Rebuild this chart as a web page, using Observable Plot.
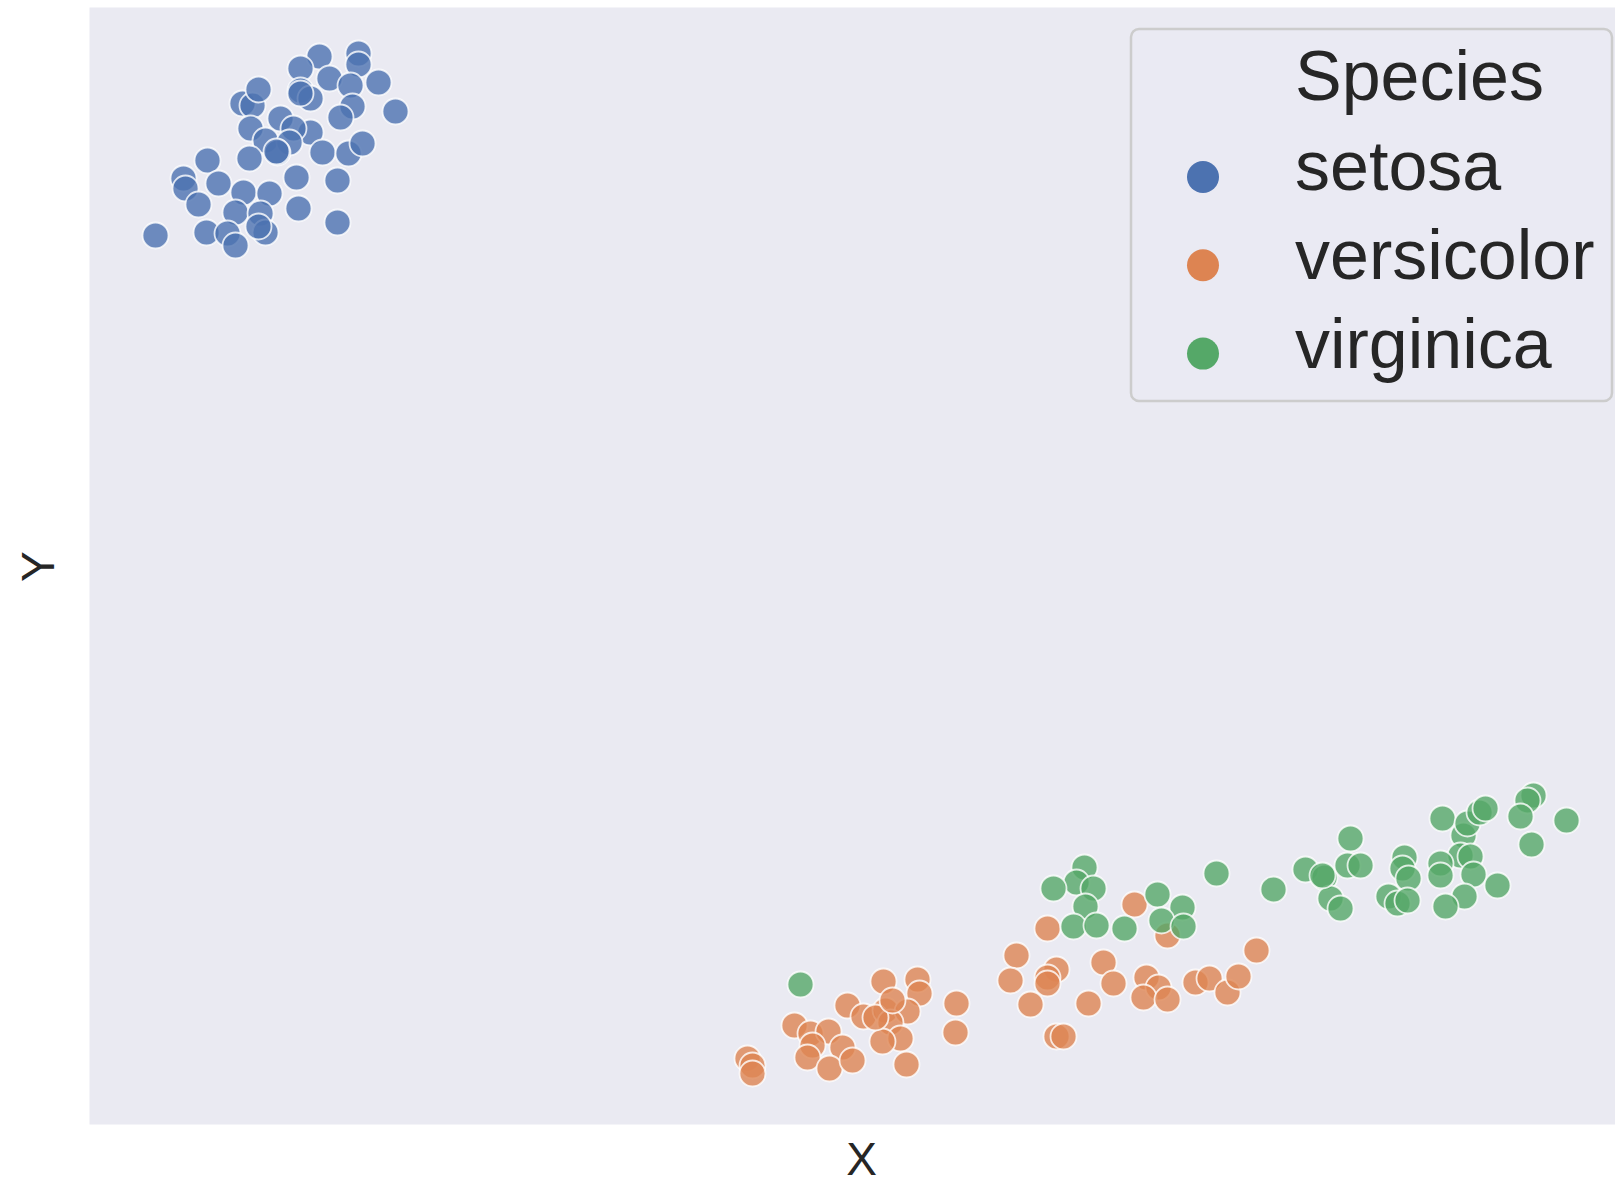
<!DOCTYPE html>
<html>
<head>
<meta charset="utf-8">
<script src="https://cdn.jsdelivr.net/npm/d3@7"></script>
<script src="https://cdn.jsdelivr.net/npm/@observablehq/plot@0.6"></script>
<style>
  html, body { margin: 0; padding: 0; background: #ffffff; overflow: hidden; }
  #wrap { position: relative; width: 1615px; height: 1185px; }
  #legend { position: absolute; left: 0; top: 0; pointer-events: none; }
</style>
</head>
<body>
<div id="wrap"></div>
<script>
// Species and their palette (seaborn "deep")
const species = ["setosa", "versicolor", "virginica"];
const colors = ["#4C72B0", "#DD8452", "#55A868"];
const axisLabels = { x: "X", y: "Y" };
const legendTitle = "Species";

// Embedding coordinates (arbitrary units; y grows downward)
const setosaX = [319,358,358,300,329,378,350,300,310,395,352,340,242,252,258,280,250,310,293,265,289,277,322,348,362,249,207,183,185,218,198,243,269,296,337,298,235,260,337,155,206,227,235,265,258,300,276];
const setosaY = [56,53,64,68,78,82,85,90,98,111,106,117,103,105,89,118,128,132,128,140,142,152,152,153,143,158,160,178,188,183,204,192,193,177,180,208,212,213,222,235,232,233,245,232,226,93,151];

const versicolorX = [883,917,919,956,955,847,863,885,907,890,900,882,906,794,810,828,842,812,807,829,852,747,752,752,1134,1047,1167,1016,1010,1056,1047,1047,1103,1113,1030,1088,1146,1158,1143,1167,1195,1209,1227,1238,1256,1056,1063,875,892];
const versicolorY = [981,979,993,1003,1032,1005,1016,1010,1011,1022,1038,1041,1064,1025,1033,1031,1047,1045,1057,1068,1060,1058,1065,1073,904,928,935,955,980,969,977,983,962,983,1004,1003,977,987,997,999,982,978,992,976,950,1036,1036,1017,1000];

const virginicaX = [800,1084,1076,1053,1093,1085,1073,1096,1124,1157,1182,1161,1183,1216,1273,1305,1324,1350,1347,1360,1330,1340,1404,1402,1408,1388,1397,1407,1442,1463,1467,1479,1485,1460,1470,1440,1440,1473,1497,1464,1445,1533,1527,1520,1531,1566,1322];
const virginicaY = [984,867,882,888,888,906,926,925,928,894,907,920,926,873,889,869,877,838,865,865,898,908,857,868,878,896,903,900,818,835,823,812,808,855,856,863,875,874,885,896,906,795,800,816,844,820,875];

const xDomain = [89, 1615];
const yDomain = [1124, 7];

const data = [];
[[setosaX, setosaY], [versicolorX, versicolorY], [virginicaX, virginicaY]].forEach(([xs, ys], k) => {
  xs.forEach((x, i) => data.push({ x, y: ys[i], species: species[k] }));
});

const font = "'Liberation Sans', Arial, Helvetica, sans-serif";

const chart = Plot.plot({
  width: 1615,
  height: 1185,
  marginLeft: 89,
  marginRight: 0,
  marginTop: 7,
  marginBottom: 61,
  x: { domain: xDomain, axis: null },
  y: { domain: yDomain, axis: null },
  color: { domain: species, range: colors },
  style: { background: "#ffffff", fontFamily: font },
  marks: [
    Plot.frame({ fill: "#EAEAF2", stroke: null }),
    Plot.dot(data, {
      x: "x", y: "y", fill: "species", r: 13,
      fillOpacity: 0.8, stroke: "#ffffff", strokeOpacity: 0.8, strokeWidth: 1.8
    }),
    Plot.text([axisLabels.x], {
      text: d => d, frameAnchor: "bottom", lineAnchor: "bottom", dy: 50, dx: 9,
      fontSize: 46, fill: "#262626", fontFamily: font
    }),
    Plot.text([axisLabels.y], {
      text: d => d, frameAnchor: "left", dx: -50, dy: 16, rotate: -90,
      fontSize: 46, fill: "#262626", fontFamily: font
    })
  ]
});

const wrap = document.getElementById("wrap");
wrap.appendChild(chart);

// Legend overlay (inside the plot area, upper right)
const leg = d3.select(wrap).append("svg")
  .attr("id", "legend")
  .attr("width", 1615).attr("height", 1185);

leg.append("rect")
  .attr("x", 1131).attr("y", 29).attr("width", 481).attr("height", 372)
  .attr("rx", 8).attr("ry", 8)
  .attr("fill", "#EAEAF2").attr("fill-opacity", 0.8)
  .attr("stroke", "#CCCCCC").attr("stroke-width", 2.5);

leg.append("text")
  .attr("x", 1295).attr("y", 100)
  .attr("font-family", font).attr("font-size", 70).attr("fill", "#262626")
  .text(legendTitle);

species.forEach((s, i) => {
  leg.append("circle")
    .attr("cx", 1203).attr("cy", 177 + 88.3 * i).attr("r", 16)
    .attr("fill", colors[i]);
  leg.append("text")
    .attr("x", 1295).attr("y", 190 + 89 * i)
    .attr("font-family", font).attr("font-size", 70).attr("fill", "#262626")
    .text(s);
});
</script>
</body>
</html>
